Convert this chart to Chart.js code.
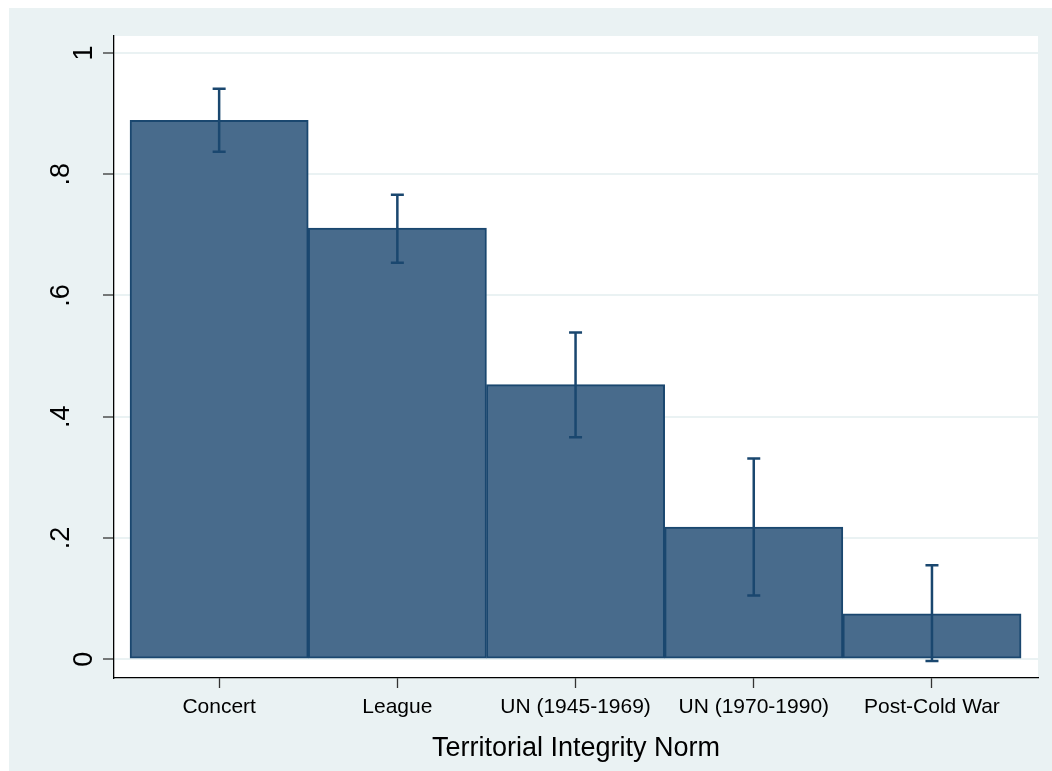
<!DOCTYPE html>
<html lang="en">
  <head>
    <meta charset="UTF-8" />
    <title>Territorial Integrity Norm</title>
    <script src="https://cdn.jsdelivr.net/npm/chart.js"></script>
    <style>
      body {
        margin: 0;
        background: #ffffff;
        width: 1052px;
        height: 771px;
        overflow: hidden;
      }

      .frame {
        position: absolute;
        left: 9px;
        top: 8px;
        width: 1043px;
        height: 763px;
        background: #eaf2f3;
      }
    </style>
  </head>
  <body>
    <div class="frame">
      <canvas id="chart"></canvas>
    </div>

    <script>
      // values
      const categories = [
        "Concert",
        "League",
        "UN (1945-1969)",
        "UN (1970-1990)",
        "Post-Cold War",
      ];
      const means = [0.889, 0.711, 0.453, 0.218, 0.075];
      const lower = [0.837, 0.654, 0.366, 0.105, -0.003];
      const upper = [0.941, 0.766, 0.539, 0.331, 0.155];
      const yTicks = [0, 0.2, 0.4, 0.6, 0.8, 1];
      const yTickLabels = ["0", ".2", ".4", ".6", ".8", "1"];

      const navy = "#1a476f";
      const fill = "#486b8c";

      // white plot region
      const plotBg = {
        id: "plotBg",
        beforeDraw(chart) {
          const { ctx, chartArea: a } = chart;
          ctx.save();
          ctx.fillStyle = "#ffffff";
          ctx.fillRect(a.left, a.top, a.right - a.left, a.bottom - a.top);
          ctx.restore();
        },
      };

      // confidence intervals
      const errorBars = {
        id: "errorBars",
        afterDatasetsDraw(chart) {
          const { ctx } = chart;
          const y = chart.scales.y;
          const bars = chart.getDatasetMeta(0).data;
          ctx.save();
          ctx.strokeStyle = navy;
          ctx.lineWidth = 2.5;
          bars.forEach((bar, i) => {
            const x = bar.x;
            const top = y.getPixelForValue(upper[i]);
            const bot = y.getPixelForValue(lower[i]);
            ctx.beginPath();
            ctx.moveTo(x, top);
            ctx.lineTo(x, bot);
            ctx.moveTo(x - 6.5, top);
            ctx.lineTo(x + 6.5, top);
            ctx.moveTo(x - 6.5, bot);
            ctx.lineTo(x + 6.5, bot);
            ctx.stroke();
          });
          ctx.restore();
        },
      };

      // stata style vertical y labels
      const yLabels = {
        id: "yLabels",
        afterDraw(chart) {
          const { ctx } = chart;
          const y = chart.scales.y;
          ctx.save();
          ctx.fillStyle = "#000000";
          ctx.font = '27px "Liberation Sans", Arial, sans-serif';
          ctx.textAlign = "center";
          ctx.textBaseline = "alphabetic";
          yTicks.forEach((v, i) => {
            const label = yTickLabels[i];
            const bx = label.length > 1 ? 60 : 83;
            ctx.save();
            ctx.translate(bx, y.getPixelForValue(v));
            ctx.rotate(-Math.PI / 2);
            ctx.fillText(label, 0, 0);
            ctx.restore();
          });
          ctx.restore();
        },
      };

      new Chart(document.getElementById("chart"), {
        type: "bar",
        data: {
          datasets: [
            {
              data: means.map((m, i) => ({ x: i, y: m })),
              backgroundColor: fill,
              borderColor: navy,
              borderWidth: 2,
              borderSkipped: false,
              barPercentage: 1,
              categoryPercentage: 1,
            },
          ],
        },
        options: {
          responsive: true,
          maintainAspectRatio: false,
          animation: false,
          layout: { padding: { top: 28, right: 14, left: 0, bottom: 0 } },
          plugins: {
            legend: { display: false },
            tooltip: { enabled: false },
          },
          scales: {
            x: {
              type: "linear",
              offset: false,
              min: -0.59,
              max: 4.595,
              afterBuildTicks(scale) {
                scale.ticks = categories.map((c, i) => ({ value: i }));
              },
              afterFit(scale) {
                scale.height = 93;
              },
              ticks: {
                color: "#000000",
                padding: 7,
                autoSkip: false,
                maxRotation: 0,
                font: { family: '"Liberation Sans", Arial, sans-serif', size: 21 },
                callback: (v) => categories[v],
              },
              grid: {
                offset: false,
                drawOnChartArea: false,
                drawTicks: true,
                tickLength: 10,
                tickColor: "#333333",
                tickWidth: 1.3,
              },
              border: { display: true, color: "#000000", width: 1.3 },
              title: {
                display: true,
                text: "Territorial Integrity Norm",
                color: "#000000",
                padding: { top: 0, bottom: 6 },
                font: { family: '"Liberation Sans", Arial, sans-serif', size: 27 },
              },
            },
            y: {
              min: -0.031,
              max: 1.028,
              afterBuildTicks(scale) {
                scale.ticks = yTicks.map((v) => ({ value: v }));
              },
              afterFit(scale) {
                scale.width = 105;
              },
              ticks: { display: false },
              grid: {
                color: "#eaf2f3",
                lineWidth: 2,
                drawTicks: true,
                tickLength: 11,
                tickColor: "#333333",
                tickWidth: 1.3,
              },
              border: { display: true, color: "#000000", width: 1.3 },
            },
          },
        },
        plugins: [plotBg, errorBars, yLabels],
      });
    </script>
  </body>
</html>
